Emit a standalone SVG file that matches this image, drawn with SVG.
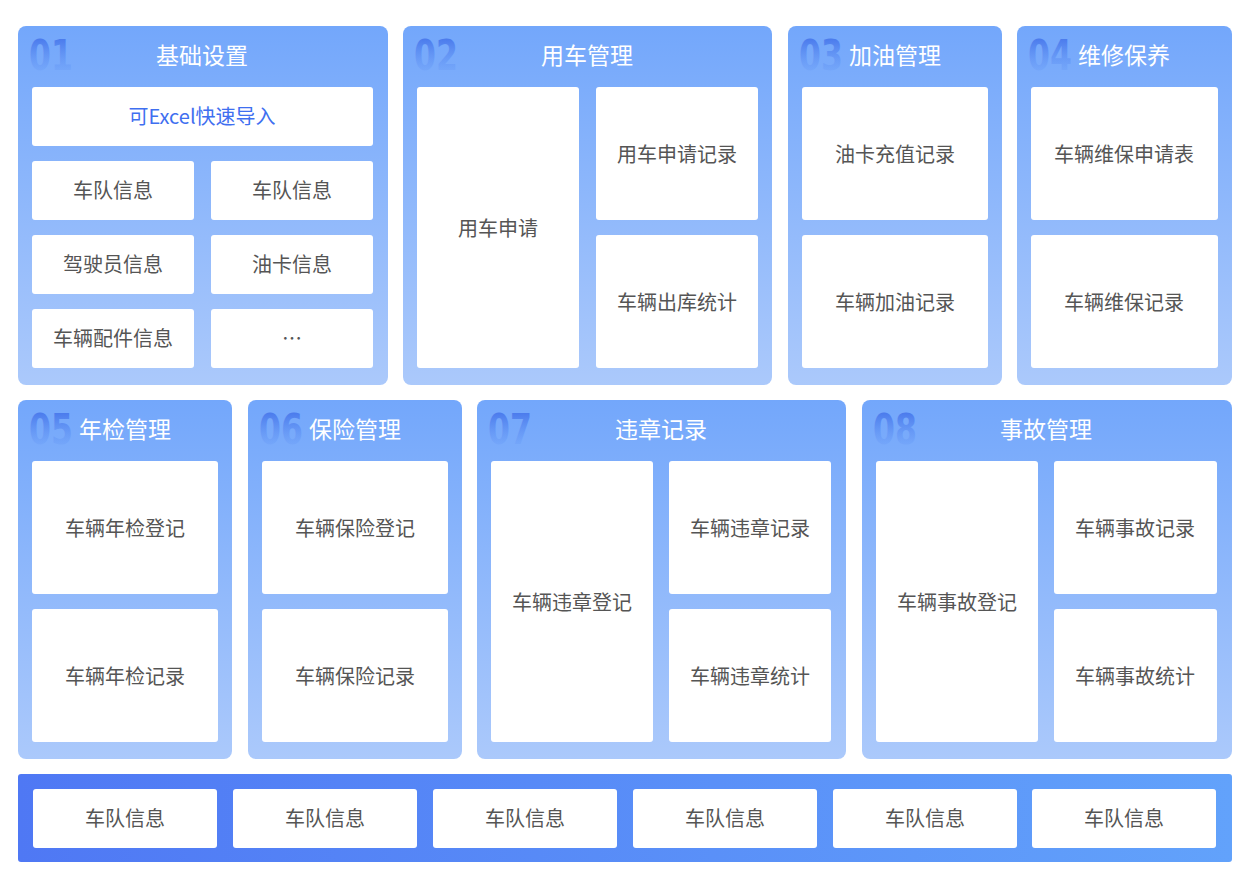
<svg xmlns="http://www.w3.org/2000/svg" width="1252" height="878" viewBox="0 0 1252 878">
<defs>
<linearGradient id="pg" x1="0" y1="0" x2="0" y2="1"><stop offset="0" stop-color="#73a7fb"/><stop offset="1" stop-color="#abc9fb"/></linearGradient>
<linearGradient id="bg" x1="0" y1="0" x2="1" y2="0"><stop offset="0" stop-color="#4f78f4"/><stop offset="1" stop-color="#62a2fb"/></linearGradient>
<linearGradient id="ng" x1="0" y1="0" x2="0" y2="1"><stop offset="0" stop-color="#3a68e6" stop-opacity="0.95"/><stop offset="1" stop-color="#6fa4fa" stop-opacity="0.1"/></linearGradient>
<style>
.p{fill:url(#pg)}
.c{fill:#fff}
.t{font-family:"Noto Sans CJK SC","Liberation Sans",sans-serif;font-size:23px;fill:#fff;text-anchor:middle}
.x{font-family:"Noto Sans CJK SC","Liberation Sans",sans-serif;font-size:20px;fill:#555;text-anchor:middle}
.n{font-family:"DejaVu Sans","Liberation Sans",sans-serif;font-size:42px;font-weight:bold;fill:url(#ng)}
</style>
</defs>
<rect width="1252" height="878" fill="#fff"/>
<g id="p1"><rect class="p" x="18" y="26" width="370" height="359" rx="8"/><text class="n" transform="translate(29,70) scale(0.75,1)">01</text><text class="t" x="202" y="64">基础设置</text>
<rect class="c" x="32" y="87" width="341" height="59" rx="3"/><text class="x" x="202" y="124" style="fill:#3f6ff0">可Excel快速导入</text>
<rect class="c" x="32" y="161" width="162" height="59" rx="3"/><text class="x" x="113" y="198">车队信息</text>
<rect class="c" x="211" y="161" width="162" height="59" rx="3"/><text class="x" x="292" y="198">车队信息</text>
<rect class="c" x="32" y="235" width="162" height="59" rx="3"/><text class="x" x="113" y="272">驾驶员信息</text>
<rect class="c" x="211" y="235" width="162" height="59" rx="3"/><text class="x" x="292" y="272">油卡信息</text>
<rect class="c" x="32" y="309" width="162" height="59" rx="3"/><text class="x" x="113" y="346">车辆配件信息</text>
<rect class="c" x="211" y="309" width="162" height="59" rx="3"/><text class="x" x="292" y="346">…</text></g>
<g id="p2"><rect class="p" x="403" y="26" width="369" height="359" rx="8"/><text class="n" transform="translate(414,70) scale(0.75,1)">02</text><text class="t" x="587" y="64">用车管理</text>
<rect class="c" x="417" y="87" width="162" height="281" rx="3"/><text class="x" x="498" y="236">用车申请</text>
<rect class="c" x="596" y="87" width="162" height="133" rx="3"/><text class="x" x="677" y="162">用车申请记录</text>
<rect class="c" x="596" y="235" width="162" height="133" rx="3"/><text class="x" x="677" y="310">车辆出库统计</text></g>
<g id="p3"><rect class="p" x="788" y="26" width="214" height="359" rx="8"/><text class="n" transform="translate(799,70) scale(0.75,1)">03</text><text class="t" x="895" y="64">加油管理</text>
<rect class="c" x="802" y="87" width="186" height="133" rx="3"/><text class="x" x="895" y="162">油卡充值记录</text>
<rect class="c" x="802" y="235" width="186" height="133" rx="3"/><text class="x" x="895" y="310">车辆加油记录</text></g>
<g id="p4"><rect class="p" x="1017" y="26" width="215" height="359" rx="8"/><text class="n" transform="translate(1028,70) scale(0.75,1)">04</text><text class="t" x="1124" y="64">维修保养</text>
<rect class="c" x="1031" y="87" width="187" height="133" rx="3"/><text class="x" x="1124" y="162">车辆维保申请表</text>
<rect class="c" x="1031" y="235" width="187" height="133" rx="3"/><text class="x" x="1124" y="310">车辆维保记录</text></g>
<g id="p5"><rect class="p" x="18" y="400" width="214" height="359" rx="8"/><text class="n" transform="translate(29,444) scale(0.75,1)">05</text><text class="t" x="125" y="438">年检管理</text>
<rect class="c" x="32" y="461" width="186" height="133" rx="3"/><text class="x" x="125" y="536">车辆年检登记</text>
<rect class="c" x="32" y="609" width="186" height="133" rx="3"/><text class="x" x="125" y="684">车辆年检记录</text></g>
<g id="p6"><rect class="p" x="248" y="400" width="214" height="359" rx="8"/><text class="n" transform="translate(259,444) scale(0.75,1)">06</text><text class="t" x="355" y="438">保险管理</text>
<rect class="c" x="262" y="461" width="186" height="133" rx="3"/><text class="x" x="355" y="536">车辆保险登记</text>
<rect class="c" x="262" y="609" width="186" height="133" rx="3"/><text class="x" x="355" y="684">车辆保险记录</text></g>
<g id="p7"><rect class="p" x="477" y="400" width="369" height="359" rx="8"/><text class="n" transform="translate(488,444) scale(0.75,1)">07</text><text class="t" x="661" y="438">违章记录</text>
<rect class="c" x="491" y="461" width="162" height="281" rx="3"/><text class="x" x="572" y="610">车辆违章登记</text>
<rect class="c" x="669" y="461" width="162" height="133" rx="3"/><text class="x" x="750" y="536">车辆违章记录</text>
<rect class="c" x="669" y="609" width="162" height="133" rx="3"/><text class="x" x="750" y="684">车辆违章统计</text></g>
<g id="p8"><rect class="p" x="862" y="400" width="370" height="359" rx="8"/><text class="n" transform="translate(873,444) scale(0.75,1)">08</text><text class="t" x="1046" y="438">事故管理</text>
<rect class="c" x="876" y="461" width="162" height="281" rx="3"/><text class="x" x="957" y="610">车辆事故登记</text>
<rect class="c" x="1054" y="461" width="163" height="133" rx="3"/><text class="x" x="1135" y="536">车辆事故记录</text>
<rect class="c" x="1054" y="609" width="163" height="133" rx="3"/><text class="x" x="1135" y="684">车辆事故统计</text></g>
<g id="bar"><rect x="18" y="774" width="1214" height="88" rx="3" fill="url(#bg)"/>
<rect class="c" x="33" y="789" width="184" height="59" rx="3"/><text class="x" x="125" y="826">车队信息</text>
<rect class="c" x="233" y="789" width="184" height="59" rx="3"/><text class="x" x="325" y="826">车队信息</text>
<rect class="c" x="433" y="789" width="184" height="59" rx="3"/><text class="x" x="525" y="826">车队信息</text>
<rect class="c" x="633" y="789" width="184" height="59" rx="3"/><text class="x" x="725" y="826">车队信息</text>
<rect class="c" x="833" y="789" width="184" height="59" rx="3"/><text class="x" x="925" y="826">车队信息</text>
<rect class="c" x="1032" y="789" width="184" height="59" rx="3"/><text class="x" x="1124" y="826">车队信息</text></g>
<g id="connectors"/>
</svg>
